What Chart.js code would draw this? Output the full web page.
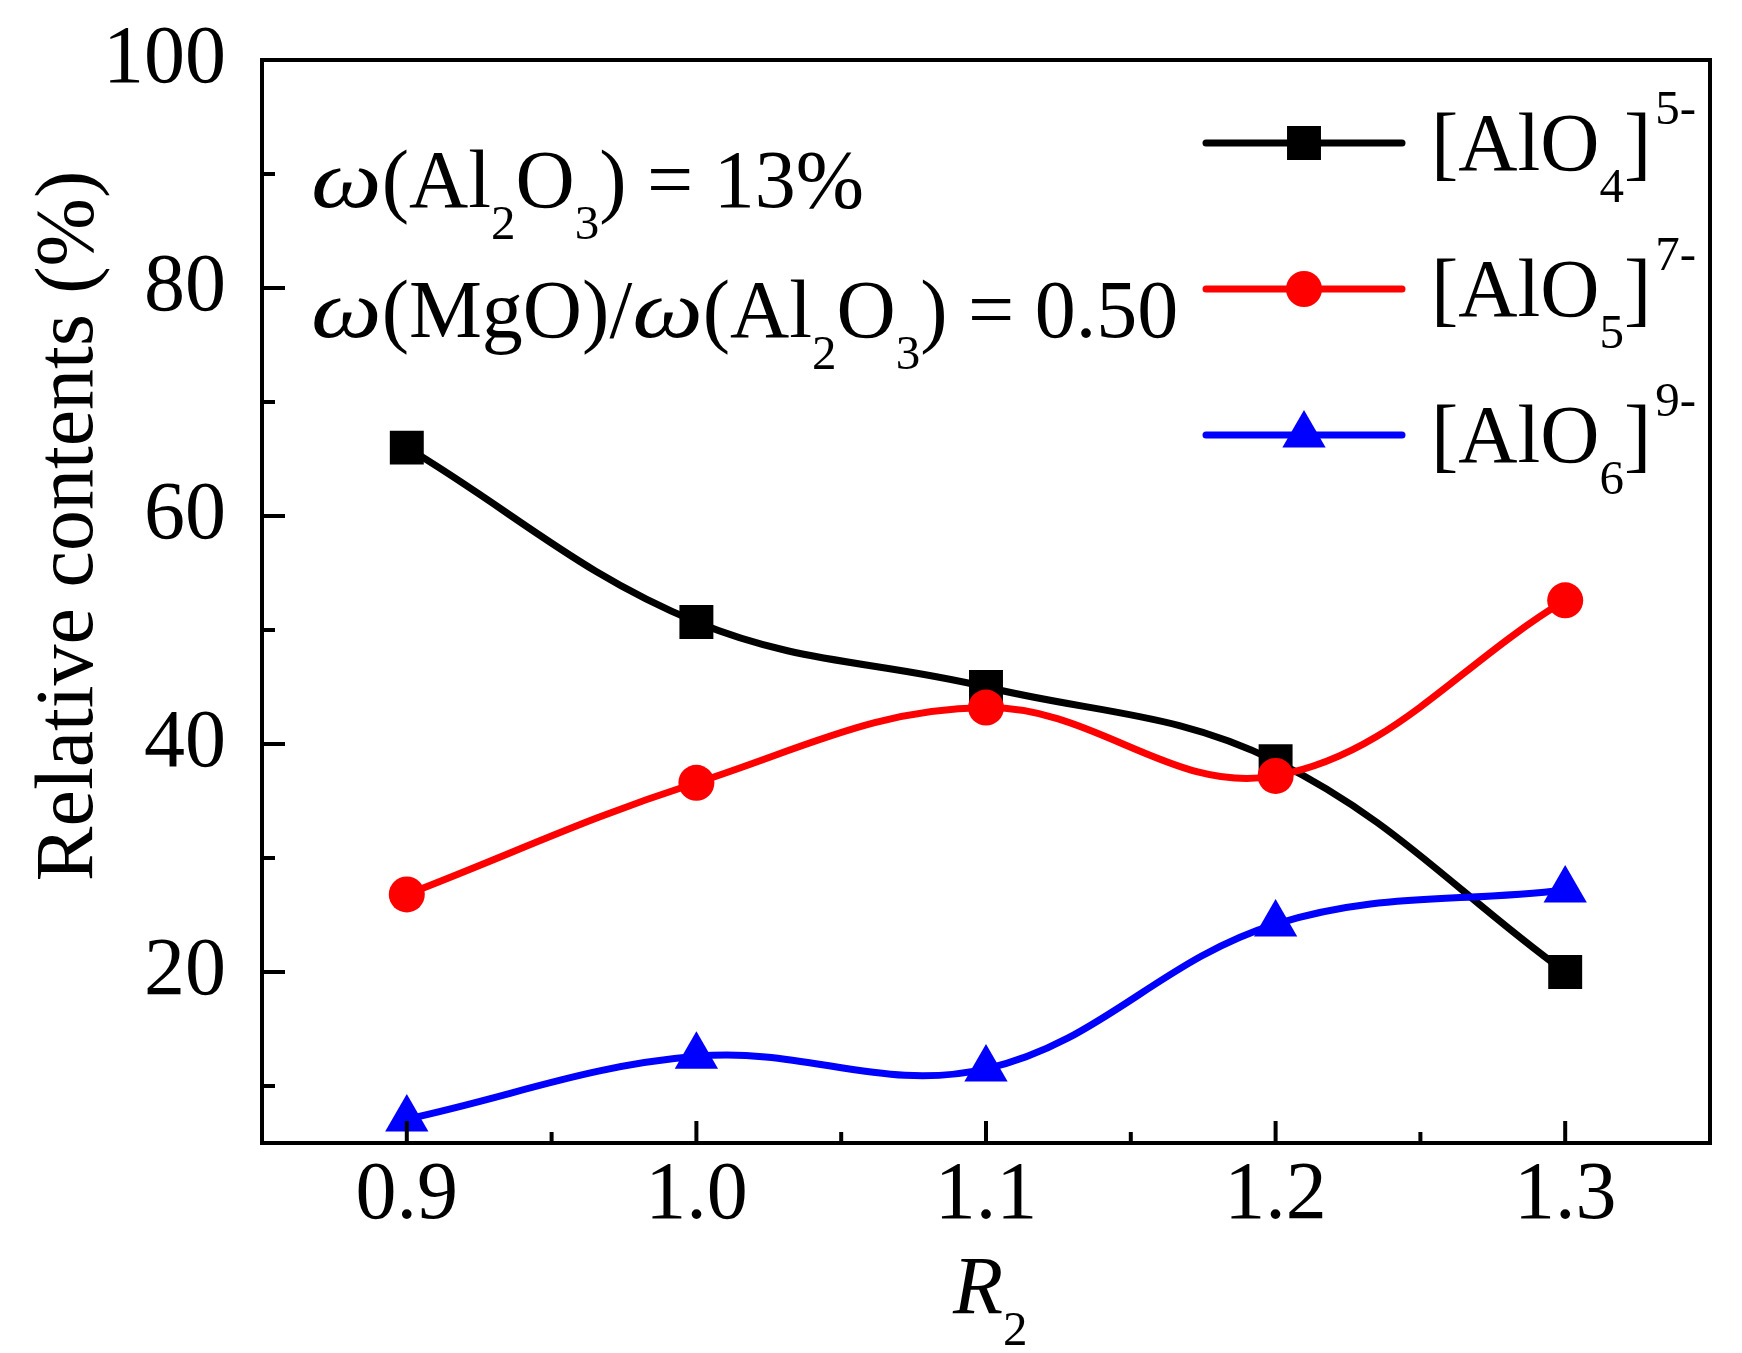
<!DOCTYPE html>
<html>
<head>
<meta charset="utf-8">
<script src="https://cdn.jsdelivr.net/npm/chart.js@4.4.1/dist/chart.umd.min.js"></script>
<style>
html,body{margin:0;padding:0;background:#ffffff;overflow:hidden}
#wrap{width:1742px;height:1353px;position:relative;background:#fff}
</style>
</head>
<body>
<div id="wrap"><canvas id="c" width="1742" height="1353"></canvas></div>
<script>
// ---- data ----
const categories = [0.9, 1.0, 1.1, 1.2, 1.3];
const alo4 = [66.0, 50.7, 45.0, 38.5, 20.0];
const alo5 = [26.8, 36.6, 43.2, 37.2, 52.6];
const alo6 = [7.1, 12.6, 11.5, 24.2, 27.2];
const xMajorTicks = [0.9, 1.0, 1.1, 1.2, 1.3];
const xMinorTicks = [0.95, 1.05, 1.15, 1.25];
const yMajorTicks = [20, 40, 60, 80, 100];
const yMinorTicks = [10, 30, 50, 70, 90];
const seriesNames = [
  [{t:'[AlO'},{t:'4',sub:true},{t:']'},{t:'5-',sup:true}],
  [{t:'[AlO'},{t:'5',sub:true},{t:']'},{t:'7-',sup:true}],
  [{t:'[AlO'},{t:'6',sub:true},{t:']'},{t:'9-',sup:true}]
];
const noteLine1 = [{t:'ω',it:true,sx:1.22},{t:'(Al'},{t:'2',sub:true},{t:'O'},{t:'3',sub:true},{t:') = 13%'}];
const noteLine2 = [{t:'ω',it:true,sx:1.22},{t:'(MgO)/'},{t:'ω',it:true,sx:1.22},{t:'(Al'},{t:'2',sub:true},{t:'O'},{t:'3',sub:true},{t:') = 0.50'}];
const yTitle = 'Relative contents (%)';
const xTitle = [{t:'R',it:true},{t:'2',sub:true}];

const FONT = "'Liberation Serif', 'Times New Roman', serif";
const MAIN = 82, SUB = 49, SUBDROP = 32, SUPRISE = 46;

function pts(vals){ return categories.map((x,i)=>({x:x, y:vals[i]})); }

function drawRich(ctx, runs, x, y, size){
  let cx = x;
  ctx.textAlign = 'left';
  ctx.textBaseline = 'alphabetic';
  for (const r of runs){
    const fs = (r.sub || r.sup) ? SUB*size/MAIN : size;
    ctx.font = (r.it ? 'italic ' : '') + fs + 'px ' + FONT;
    const dy = r.sub ? SUBDROP*size/MAIN : (r.sup ? -SUPRISE*size/MAIN : 0);
    if (r.sup) cx += 4;
    const sx = r.sx || 1;
    ctx.save();
    ctx.translate(cx, y + dy);
    ctx.scale(sx, 1);
    ctx.fillText(r.t, 0, 0);
    ctx.restore();
    cx += ctx.measureText(r.t).width * sx;
  }
  return cx;
}

const decorPlugin = {
  id: 'decor',
  afterDraw(chart){
    const ctx = chart.ctx;
    const a = chart.chartArea;
    const xs = chart.scales.x, ys = chart.scales.y;
    ctx.save();
    ctx.strokeStyle = '#000';
    ctx.fillStyle = '#000';
    // frame
    ctx.lineWidth = 4;
    ctx.strokeRect(a.left, a.top, a.right - a.left, a.bottom - a.top);
    // inward ticks
    ctx.lineWidth = 4;
    ctx.beginPath();
    xMajorTicks.forEach(v=>{ const p = xs.getPixelForValue(v); ctx.moveTo(p, a.bottom); ctx.lineTo(p, a.bottom - 22); });
    xMinorTicks.forEach(v=>{ const p = xs.getPixelForValue(v); ctx.moveTo(p, a.bottom); ctx.lineTo(p, a.bottom - 11); });
    yMajorTicks.forEach(v=>{ const p = ys.getPixelForValue(v); ctx.moveTo(a.left, p); ctx.lineTo(a.left + 23, p); });
    yMinorTicks.forEach(v=>{ const p = ys.getPixelForValue(v); ctx.moveTo(a.left, p); ctx.lineTo(a.left + 13, p); });
    ctx.stroke();

    // y title
    ctx.save();
    ctx.translate(92, 526);
    ctx.rotate(-Math.PI/2);
    ctx.font = MAIN + 'px ' + FONT;
    ctx.textAlign = 'center';
    ctx.textBaseline = 'alphabetic';
    ctx.fillText(yTitle, 0, 0);
    ctx.restore();

    // x title
    drawRich(ctx, xTitle, 953, 1313, MAIN);

    // annotation
    drawRich(ctx, noteLine1, 311, 207, MAIN);
    drawRich(ctx, noteLine2, 311, 337, MAIN);

    // legend
    const rows = [143, 289, 435];
    chart.data.datasets.forEach((ds, i)=>{
      const y = rows[i];
      ctx.strokeStyle = ds.borderColor;
      ctx.fillStyle = ds.borderColor;
      ctx.lineWidth = ds.borderWidth;
      ctx.lineCap = 'round';
      ctx.beginPath();
      ctx.moveTo(1206, y); ctx.lineTo(1402, y);
      ctx.stroke();
      ctx.fillStyle = ds.pointBackgroundColor;
      Chart.helpers.drawPoint(ctx, {pointStyle: ds.pointStyle, radius: ds.pointRadius, borderWidth: 0, rotation: 0}, 1304, y);
      ctx.fillStyle = '#000';
      drawRich(ctx, seriesNames[i], 1431, y + 27, MAIN);
    });
    ctx.restore();
  }
};

Chart.defaults.font.family = FONT;
Chart.defaults.color = '#000';

new Chart(document.getElementById('c'), {
  type: 'line',
  data: {
    datasets: [
      { label: '[AlO4]5-', data: pts(alo4), borderColor: '#000000', backgroundColor: '#000000',
        pointBackgroundColor: '#000000', borderWidth: 7, pointStyle: 'rect', pointRadius: 24,
        pointBorderWidth: 0, tension: 0.38, order: 3 },
      { label: '[AlO5]7-', data: pts(alo5), borderColor: '#ff0000', backgroundColor: '#ff0000',
        pointBackgroundColor: '#ff0000', borderWidth: 7, pointStyle: 'circle', pointRadius: 18,
        pointBorderWidth: 0, tension: 0.38, order: 2 },
      { label: '[AlO6]9-', data: pts(alo6), borderColor: '#0000ff', backgroundColor: '#0000ff',
        pointBackgroundColor: '#0000ff', borderWidth: 7, pointStyle: 'triangle', pointRadius: 25,
        pointBorderWidth: 0, tension: 0.38, order: 1 }
    ]
  },
  options: {
    responsive: false,
    devicePixelRatio: 1,
    animation: false,
    layout: { padding: { top: 60, right: 32, left: 0, bottom: 0 } },
    plugins: { legend: { display: false }, tooltip: { enabled: false } },
    elements: { line: { cubicInterpolationMode: 'default', capBezierPoints: false } },
    scales: {
      x: {
        type: 'linear', min: 0.85, max: 1.35,
        grid: { display: false }, border: { display: false },
        afterBuildTicks(s){ s.ticks = xMajorTicks.map(v=>({value:v})); },
        afterFit(s){ s.height = 210; s.paddingLeft = 0; s.paddingRight = 0; },
        ticks: { font: { size: MAIN }, padding: -4, maxRotation: 0, autoSkip: false,
          callback: v => Number(v).toFixed(1) }
      },
      y: {
        type: 'linear', min: 5, max: 100,
        grid: { display: false }, border: { display: false },
        afterBuildTicks(s){ s.ticks = yMajorTicks.map(v=>({value:v})); },
        afterFit(s){ s.width = 262; s.paddingTop = 0; s.paddingBottom = 0; },
        ticks: { font: { size: MAIN }, padding: 28, autoSkip: false,
          callback: v => String(v) }
      }
    }
  },
  plugins: [decorPlugin]
});
</script>
</body>
</html>
